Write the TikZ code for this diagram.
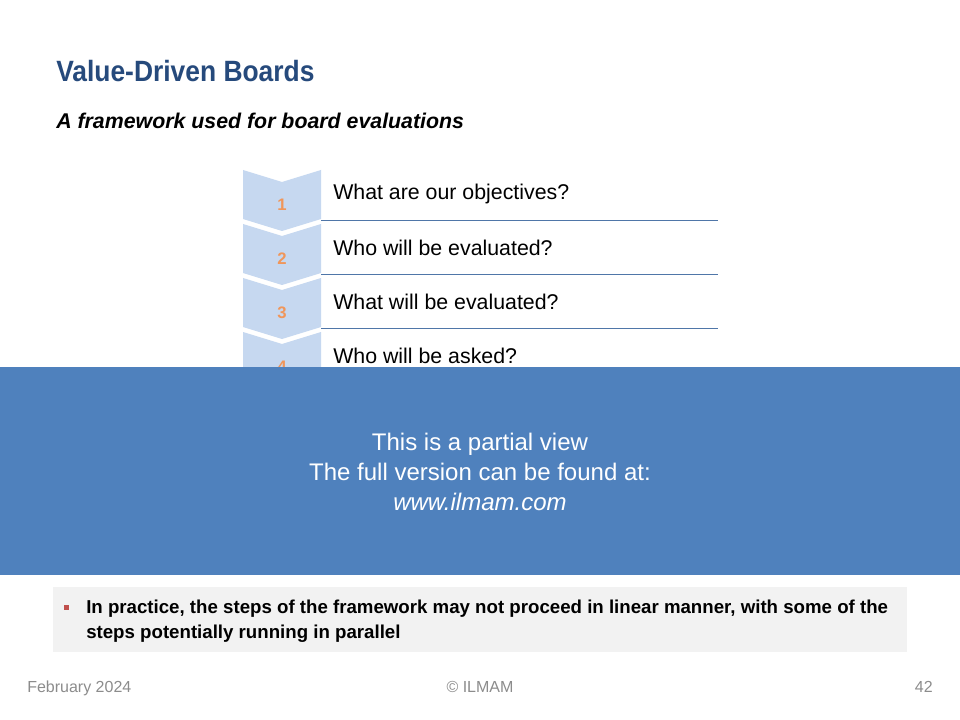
\documentclass[tikz,border=0pt]{standalone}
\usepackage{fontspec}
\setmainfont{Liberation Sans}
\newfontfamily\titlefont[FakeStretch=0.9]{Liberation Sans}
\definecolor{titleblue}{RGB}{38,74,124}
\definecolor{chevblue}{RGB}{198,216,240}
\definecolor{numorange}{RGB}{240,150,90}
\definecolor{rulecol}{RGB}{79,118,168}
\definecolor{bandblue}{RGB}{79,129,189}
\definecolor{notegray}{RGB}{242,242,242}
\definecolor{bulletred}{RGB}{192,80,77}
\definecolor{footgray}{RGB}{140,140,140}

\begin{document}
\begin{tikzpicture}[x=0.75pt,y=-0.75pt,
  chevron/.style={fill=chevblue,draw=none},
  stepnum/.style={text=numorange,font=\bfseries\fontsize{12.5}{14}\selectfont,inner sep=0pt},
  question/.style={anchor=west,inner sep=0pt,font=\fontsize{16}{19}\selectfont},
  steprule/.style={draw=rulecol,line width=0.6pt},
  foot/.style={text=footgray,inner sep=0pt,font=\fontsize{12}{14}\selectfont}]
\useasboundingbox[fill=white] (0,0) rectangle (960,720);

% define the title lines
  \node[anchor=west,inner sep=0pt,text=titleblue,font=\titlefont\bfseries\fontsize{22}{26}\selectfont] (title) at (56,71) {Value-Driven Boards};
  \node[anchor=west,inner sep=0pt,font=\bfseries\itshape\fontsize{16}{19}\selectfont] (subtitle) at (56,121) {A framework used for board evaluations};

% define the steps
  \foreach \i/\q in {1/What are our objectives?,2/Who will be evaluated?,3/What will be evaluated?,4/Who will be asked?}{
    \pgfmathsetmacro{\yt}{170+54*(\i-1)}
    \fill[chevron] (243,\yt) -- (282,\yt+12) -- (321,\yt) -- (321,\yt+49) -- (282,\yt+61) -- (243,\yt+49) -- cycle;
    \node[stepnum] (n\i) at (282,\yt+35) {\i};
    \node[question] (q\i) at (333,\yt+24) {\q};
    \coordinate (r\i) at (321,\yt+50);
    \coordinate (e\i) at (718,\yt+50);
  }
  \foreach \i in {1,2,3}
    \draw[steprule] (r\i) -- (e\i);

% define the cover band
  \fill[bandblue] (0,367) rectangle (960,575);
  \node[text=white,align=center,font=\fontsize{18}{22.5}\selectfont] (band) at (480,472)
    {This is a partial view\\The full version can be found at:\\\textit{www.ilmam.com}};

% define the note
  \fill[notegray] (53,587) rectangle (907,652);
  \fill[bulletred] (63.5,604.5) rectangle (68.5,609.5);
  \node[anchor=base west,inner sep=0pt,align=left,font=\bfseries\fontsize{14}{18.75}\selectfont] (note) at (86,638)
    {In practice, the steps of the framework may not proceed in linear manner, with some of the\\steps potentially running in parallel};

% define the footer
  \node[foot,anchor=base west] (date) at (27,692) {February 2024};
  \node[foot,anchor=base] (copy) at (480,692) {\textcopyright\ ILMAM};
  \node[foot,anchor=base east] (page) at (933,692) {42};
\end{tikzpicture}
\end{document}
